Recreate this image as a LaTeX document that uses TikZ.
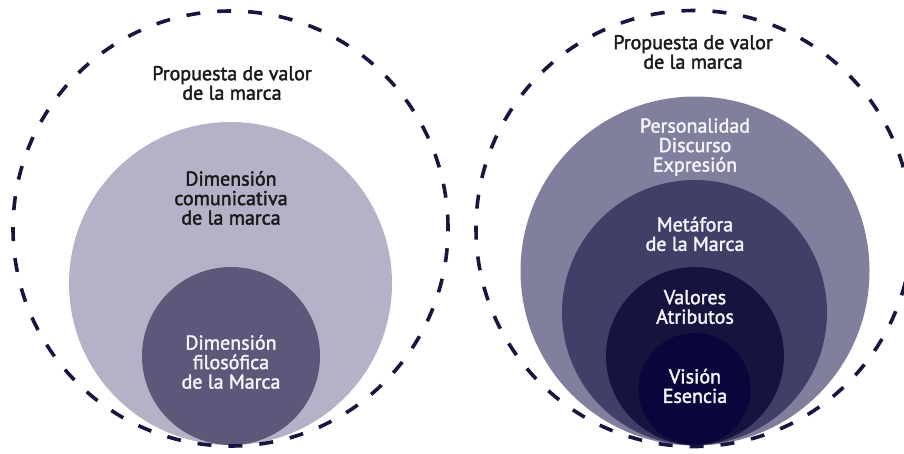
\documentclass[tikz,border=0pt]{standalone}
\usepackage{fontspec}
\newfontfamily\labelfont{PT Sans}[FakeBold=2]
\usetikzlibrary{shapes.geometric}
\definecolor{navy}{HTML}{16163F}
\definecolor{lightL}{HTML}{B3B2C6}
\definecolor{darkL}{HTML}{5B5879}
\definecolor{ringA}{HTML}{817F9E}
\definecolor{ringB}{HTML}{413F68}
\definecolor{ringC}{HTML}{16133F}
\definecolor{ringD}{HTML}{08063A}
\definecolor{txtdark}{HTML}{1A1A1A}
\definecolor{txtlight}{HTML}{F2F2F7}
\tikzset{
  disc/.style={circle, inner sep=0pt, fill=#1},
  frame/.style={circle, inner sep=0pt, draw=navy, line width=3.6pt,
                dash pattern=on 14pt off 17pt},
  label/.style={align=center, inner sep=0pt,
                font=\labelfont\fontsize{20}{19.5}\selectfont},
  dark/.style={label, text=txtdark},
  light/.style={label, text=txtlight},
}
\begin{document}
\begin{tikzpicture}[x=1pt,y=-1pt]
\useasboundingbox (0,0) rectangle (904,453);
% left diagram
\node[disc=lightL, minimum size=323pt] (comL) at (230.5,283.5) {};
\node[disc=darkL, minimum size=178pt] (filL) at (231,356) {};
\node[frame, minimum size=435pt] (propL) at (230.5,228.5) {};
\node[dark] (tPropL) at (232,83) {Propuesta de valor\\de la marca};
\node[dark] (tComL) at (231,198) {Dimensión\\comunicativa\\de la marca};
\node[light] (tFilL) at (231,362) {Dimensión\\filosófica\\de la Marca};
% right diagram
\node[disc=ringA, minimum size=349pt] (perR) at (695,271) {};
\node[disc=ringB, minimum size=265pt] (metR) at (694.5,312.5) {};
\node[disc=ringC, minimum size=178pt] (valR) at (695,356) {};
\node[disc=ringD, minimum size=112pt] (visR) at (694.5,389) {};
\node[frame, minimum size=436pt] (propR) at (694,228.5) {};
\node[dark] (tPropR) at (693,52) {Propuesta de valor\\de la marca};
\node[light] (tPerR) at (695,147) {Personalidad\\Discurso\\Expresión};
\node[light] (tMetR) at (695,234) {Metáfora\\de la Marca};
\node[light] (tValR) at (695,307) {Valores\\Atributos};
\node[light] (tVisR) at (695,386) {Visión\\Esencia};
\end{tikzpicture}
\end{document}
